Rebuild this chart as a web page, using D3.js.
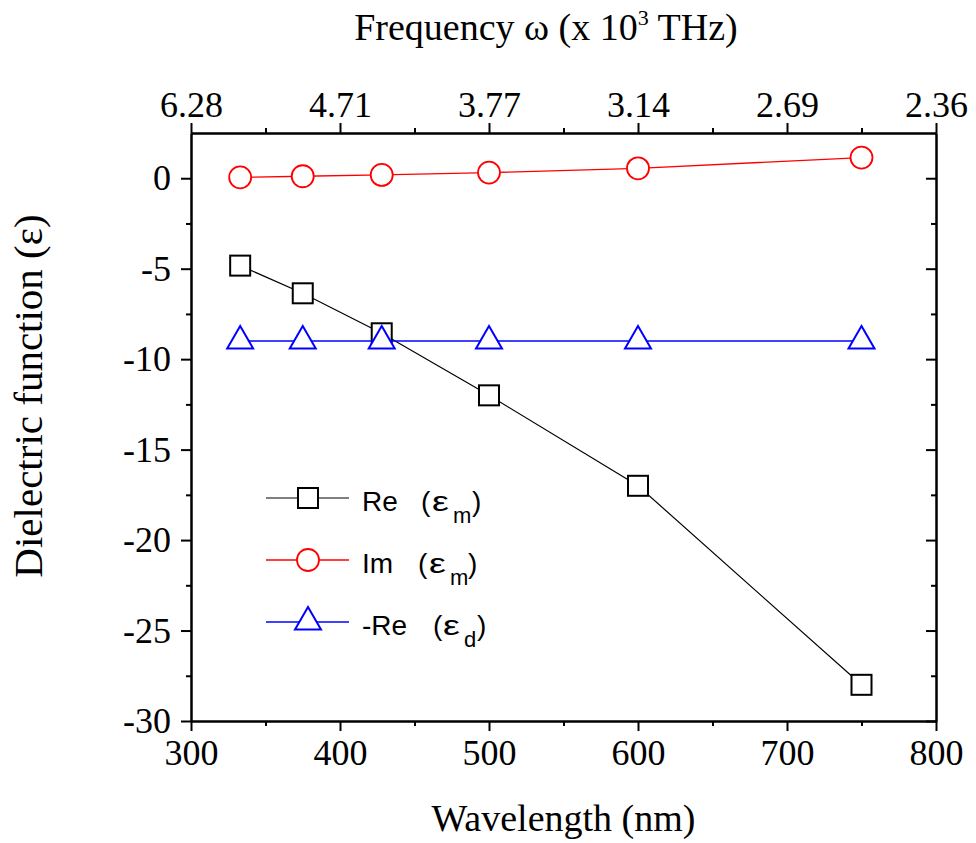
<!DOCTYPE html>
<html>
<head>
<meta charset="utf-8">
<script src="https://cdn.jsdelivr.net/npm/d3@7"></script>
<style>
  body { margin: 0; background: #fff; }
</style>
</head>
<body>
<div id="chart"></div>
<script>
// values
const wavelengths = [333, 375, 428, 500, 600, 750];
const reEm = [-4.83, -6.36, -8.57, -12.0, -17.0, -28.0];
const imEm = [0.05, 0.11, 0.18, 0.31, 0.55, 1.14];
const negReEd = [-9, -9, -9, -9, -9, -9];

const xTicks = [300, 400, 500, 600, 700, 800];
const xMinor = [350, 450, 550, 650, 750];
const freqLabels = ['6.28', '4.71', '3.77', '3.14', '2.69', '2.36'];
const yTicks = [-30, -25, -20, -15, -10, -5, 0];
const yMinor = [-27.5, -22.5, -17.5, -12.5, -7.5, -2.5];

const width = 976;
const height = 843;
const margin = { top: 133, right: 40, bottom: 122, left: 191 };

const serif = '"Liberation Serif", "Times New Roman", serif';
const sans = '"Liberation Sans", Arial, sans-serif';

const svg = d3.select('#chart')
  .append('svg')
  .attr('width', width)
  .attr('height', height);

const x = d3.scaleLinear()
  .domain([300, 800])
  .range([margin.left, width - margin.right]);

const y = d3.scaleLinear()
  .domain([-30, 2.5])
  .range([height - margin.bottom, margin.top]);

const styleAxis = (g) => {
  g.attr('font-family', null).attr('font-size', null);
  g.selectAll('path').attr('stroke-width', 2);
  g.selectAll('line').attr('stroke-width', 2);
  g.selectAll('text')
    .style('font-family', serif)
    .style('font-size', '36px');
};

// bottom
svg.append('g')
  .attr('transform', `translate(0,${y.range()[0]})`)
  .call(d3.axisBottom(x).tickValues(xTicks).tickSize(10).tickSizeOuter(0).tickPadding(8)
    .tickFormat((d) => String(d)))
  .call(styleAxis);
svg.append('g')
  .attr('transform', `translate(0,${y.range()[0]})`)
  .call(d3.axisBottom(x).tickValues(xMinor).tickSize(5).tickSizeOuter(0).tickFormat(''))
  .call(styleAxis);

// top (frequency)
svg.append('g')
  .attr('transform', `translate(0,${margin.top})`)
  .call(d3.axisTop(x).tickValues(xTicks).tickSize(10).tickSizeOuter(0).tickPadding(6)
    .tickFormat((d, i) => freqLabels[i]))
  .call(styleAxis);
svg.append('g')
  .attr('transform', `translate(0,${margin.top})`)
  .call(d3.axisTop(x).tickValues(xMinor).tickSize(5).tickSizeOuter(0).tickFormat(''))
  .call(styleAxis);

// left
svg.append('g')
  .attr('transform', `translate(${margin.left},0)`)
  .call(d3.axisLeft(y).tickValues(yTicks).tickSize(10).tickSizeOuter(0).tickPadding(10)
    .tickFormat((d) => String(d)))
  .call(styleAxis);
svg.append('g')
  .attr('transform', `translate(${margin.left},0)`)
  .call(d3.axisLeft(y).tickValues(yMinor).tickSize(5).tickSizeOuter(0).tickFormat(''))
  .call(styleAxis);

// right, ticks inward
svg.append('g')
  .attr('transform', `translate(${width - margin.right},0)`)
  .call(d3.axisRight(y).tickValues(yTicks).tickSize(-10).tickSizeOuter(0).tickFormat(''))
  .call(styleAxis);
svg.append('g')
  .attr('transform', `translate(${width - margin.right},0)`)
  .call(d3.axisRight(y).tickValues(yMinor).tickSize(-5).tickSizeOuter(0).tickFormat(''))
  .call(styleAxis);

// axis titles
const xMid = (x.range()[0] + x.range()[1]) / 2;
svg.append('text')
  .attr('x', xMid)
  .attr('y', 831)
  .attr('text-anchor', 'middle')
  .style('font-family', serif)
  .style('font-size', '38px')
  .text('Wavelength (nm)');

const topTitle = svg.append('text')
  .attr('x', 546)
  .attr('y', 40)
  .attr('text-anchor', 'middle')
  .style('font-family', serif)
  .style('font-size', '38px');
topTitle.append('tspan').text('Frequency \u03C9 (x 10');
topTitle.append('tspan').style('font-size', '22px').attr('dy', -15).text('3');
topTitle.append('tspan').attr('dy', 15).text(' THz)');

svg.append('text')
  .attr('transform', 'translate(42,396) rotate(-90)')
  .attr('text-anchor', 'middle')
  .style('font-family', serif)
  .style('font-size', '41px')
  .text('Dielectric function (\u03B5)');

// series
const series = [
  { values: reEm, color: '#000', width: 1.2, shape: 'square',
    parts: [['Re', 0], ['(', 59], ['\u03B5', 70], ['m', 91], [')', 110]] },
  { values: imEm, color: '#ff0000', width: 1.3, shape: 'circle',
    parts: [['Im', 0], ['(', 56], ['\u03B5', 67], ['m', 88], [')', 106]] },
  { values: negReEd, color: '#0000ff', width: 1.5, shape: 'triangle',
    parts: [['-Re', 0], ['(', 71], ['\u03B5', 81], ['d', 102], [')', 115]] },
];

const drawMarker = (g, shape, color) => {
  if (shape === 'square') {
    g.append('rect')
      .attr('x', -10).attr('y', -10).attr('width', 20).attr('height', 20)
      .attr('fill', '#fff').attr('stroke', color).attr('stroke-width', 2);
  } else if (shape === 'circle') {
    g.append('circle')
      .attr('r', 11)
      .attr('fill', '#fff').attr('stroke', color).attr('stroke-width', 1.8);
  } else {
    g.append('path')
      .attr('d', 'M0,-15L13,7.5L-13,7.5Z')
      .attr('fill', '#fff').attr('stroke', color).attr('stroke-width', 2);
  }
};

const line = d3.line()
  .x((d) => x(d[0]))
  .y((d) => y(d[1]));

series.forEach((s) => {
  const pts = wavelengths.map((w, i) => [w, s.values[i]]);
  svg.append('path')
    .datum(pts)
    .attr('d', line)
    .attr('fill', 'none')
    .attr('stroke', s.color)
    .attr('stroke-width', s.width);

  pts.forEach((p) => {
    const g = svg.append('g').attr('transform', `translate(${x(p[0])},${y(p[1])})`);
    drawMarker(g, s.shape, s.color);
  });
});

// legend
const legendY = [498, 560, 622];
const legendTextX = 362;
series.forEach((s, i) => {
  const g = svg.append('g').attr('transform', `translate(0,${legendY[i]})`);
  g.append('line')
    .attr('x1', 266).attr('x2', 349)
    .attr('stroke', s.color).attr('stroke-width', s.width);
  const m = g.append('g').attr('transform', 'translate(308,0)');
  drawMarker(m, s.shape, s.color);

  s.parts.forEach(([txt, off], j) => {
    const isSub = j === 3;
    const isEps = j === 2;
    const ty = isSub ? 25 : 13;
    g.append('text')
      .attr('transform', `translate(${legendTextX + off},${ty})` + (isEps ? ' scale(1.35,1)' : ''))
      .style('font-family', sans)
      .style('font-size', isSub ? '22px' : '28px')
      .text(txt);
  });
});
</script>
</body>
</html>
